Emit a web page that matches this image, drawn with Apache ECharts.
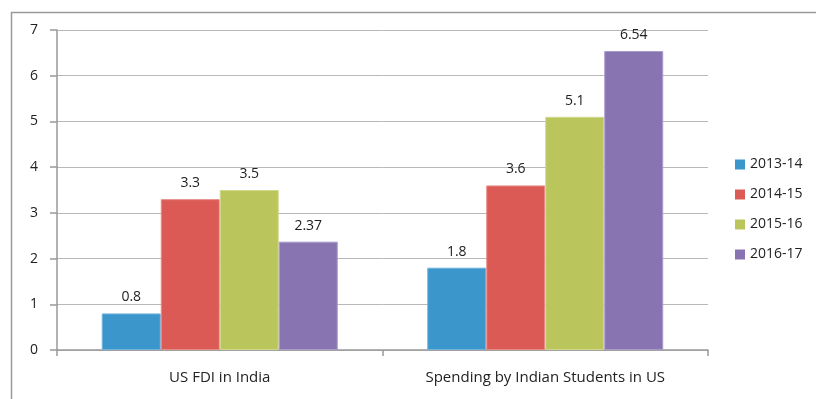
<!DOCTYPE html>
<html>
<head>
<meta charset="utf-8">
<style>
  html, body { margin: 0; padding: 0; background: #fff; }
  #chart { width: 816px; height: 399px; }
</style>
<script src="https://cdn.jsdelivr.net/npm/echarts@6/dist/echarts.min.js"></script>
</head>
<body>
<div id="chart"></div>
<script>
// Categories and yearly values (USD billion)
const categories = ['US FDI in India', 'Spending by Indian Students in US'];
const years = ['2013-14', '2014-15', '2015-16', '2016-17'];
const values2013 = [0.8, 1.8];
const values2014 = [3.3, 3.6];
const values2015 = [3.5, 5.1];
const values2016 = [2.37, 6.54];
const yTicks = [0, 1, 2, 3, 4, 5, 6, 7];

const colors = ['#3b96cb', '#db5a55', '#bac55c', '#8874b0'];
const borders = ['#6fb3dc', '#e88b87', '#d0d88c', '#a99ccb'];
const seriesValues = [values2013, values2014, values2015, values2016];
const font = '"Open Sans", "Noto Sans", sans-serif';

const chart = echarts.init(document.getElementById('chart'), null, { renderer: 'canvas' });

chart.setOption({
  animation: false,
  color: colors,
  graphic: [{
    type: 'rect',
    shape: { x: 11.5, y: 12.5, width: 900, height: 500 },
    style: { fill: 'none', stroke: '#9a9a9a', lineWidth: 1.5 },
    silent: true
  }],
  grid: { left: 57, right: 108, top: 30, bottom: 49, containLabel: false },
  legend: {
    orient: 'vertical',
    left: 730,
    top: 150,
    itemWidth: 10,
    itemHeight: 10,
    itemGap: 11,
    icon: 'rect',
    itemStyle: { borderWidth: 0 },
    textStyle: { fontFamily: font, fontSize: 14, color: '#222', lineHeight: 19 },
    data: years
  },
  xAxis: {
    type: 'category',
    data: categories,
    axisLine: { lineStyle: { color: '#999', width: 1.5 } },
    axisTick: { show: true, length: 6, alignWithLabel: false, lineStyle: { color: '#999', width: 1.5 } },
    axisLabel: { fontFamily: font, fontSize: 15, color: '#222', margin: 20 }
  },
  yAxis: {
    type: 'value',
    min: yTicks[0],
    max: yTicks[yTicks.length - 1],
    interval: 1,
    axisLine: { show: true, lineStyle: { color: '#999', width: 1.5 } },
    axisTick: { show: true, length: 7, lineStyle: { color: '#999', width: 1.5 } },
    splitLine: { lineStyle: { color: '#b8b8b8', width: 1 } },
    axisLabel: { fontFamily: font, fontSize: 14, color: '#222', margin: 19 }
  },
  series: years.map((y, i) => ({
    name: y,
    type: 'bar',
    data: seriesValues[i],
    barGap: '0%',
    barCategoryGap: '27.5%',
    itemStyle: { color: colors[i], borderColor: borders[i], borderWidth: 1 },
    label: {
      show: true,
      position: 'top',
      distance: 9,
      fontFamily: font,
      fontSize: 14,
      color: '#222'
    }
  }))
});
</script>
</body>
</html>
